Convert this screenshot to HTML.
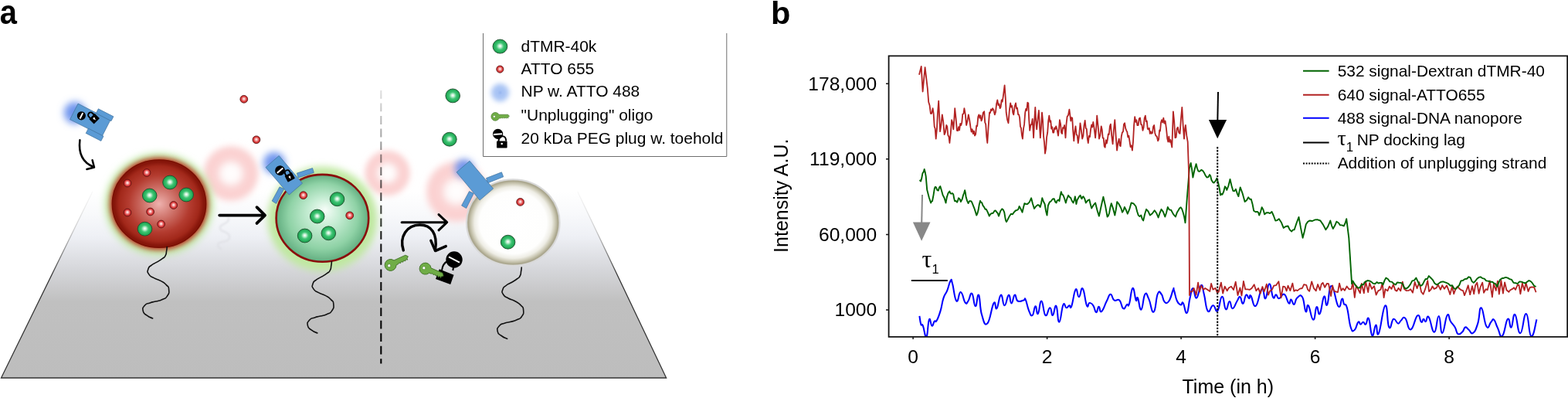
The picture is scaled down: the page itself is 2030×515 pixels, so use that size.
<!DOCTYPE html>
<html><head><meta charset="utf-8"><title>Figure</title>
<style>html,body{margin:0;padding:0;background:#fff;width:2030px;height:515px;overflow:hidden}svg{display:block}</style>
</head><body>
<svg width="2030" height="515" viewBox="0 0 2030 515">
<defs>
<linearGradient id="floor" x1="0" y1="248" x2="0" y2="489" gradientUnits="userSpaceOnUse">
 <stop offset="0" stop-color="#ffffff"/>
 <stop offset="0.12" stop-color="#f8f9fb"/>
 <stop offset="0.24" stop-color="#eef0f5"/>
 <stop offset="0.4" stop-color="#d8d9dd"/>
 <stop offset="0.59" stop-color="#c0c0c0"/>
 <stop offset="1" stop-color="#bdbdbd"/>
</linearGradient>
<linearGradient id="floorline" x1="0" y1="248" x2="0" y2="489" gradientUnits="userSpaceOnUse">
 <stop offset="0" stop-color="#eeeeee" stop-opacity="0.4"/>
 <stop offset="0.2" stop-color="#bbb" stop-opacity="0.7"/>
 <stop offset="0.45" stop-color="#333"/>
 <stop offset="1" stop-color="#333"/>
</linearGradient>
<linearGradient id="dashgrad" x1="0" y1="117" x2="0" y2="470" gradientUnits="userSpaceOnUse">
 <stop offset="0" stop-color="#000" stop-opacity="0.12"/>
 <stop offset="0.25" stop-color="#000" stop-opacity="0.45"/>
 <stop offset="0.5" stop-color="#000" stop-opacity="0.9"/>
 <stop offset="1" stop-color="#000"/>
</linearGradient>
<radialGradient id="gbead" cx="0.5" cy="0.5" r="0.5" fx="0.5" fy="0.47">
 <stop offset="0" stop-color="#ffffff"/>
 <stop offset="0.18" stop-color="#cdf2da"/>
 <stop offset="0.5" stop-color="#3fc574"/>
 <stop offset="1" stop-color="#17a04c"/>
</radialGradient>
<radialGradient id="rbead" cx="0.5" cy="0.5" r="0.5" fx="0.5" fy="0.45">
 <stop offset="0" stop-color="#ffffff"/>
 <stop offset="0.3" stop-color="#f3b0b0"/>
 <stop offset="0.7" stop-color="#dc3c3c"/>
 <stop offset="1" stop-color="#c02424"/>
</radialGradient>
<radialGradient id="redsph" cx="0.5" cy="0.5" r="0.5" fx="0.5" fy="0.5">
 <stop offset="0" stop-color="#eeb2ae"/>
 <stop offset="0.3" stop-color="#d27a72"/>
 <stop offset="0.65" stop-color="#b43c30"/>
 <stop offset="0.86" stop-color="#a2281a"/>
 <stop offset="0.96" stop-color="#85150a"/>
 <stop offset="1" stop-color="#8c1a0c"/>
</radialGradient>
<radialGradient id="grnsph" cx="0.5" cy="0.5" r="0.5" fx="0.53" fy="0.4">
 <stop offset="0" stop-color="#f6fdf8"/>
 <stop offset="0.35" stop-color="#c4ecd2"/>
 <stop offset="0.75" stop-color="#8fd2a6"/>
 <stop offset="1" stop-color="#62ae80"/>
</radialGradient>
<radialGradient id="whtsph" cx="0.5" cy="0.5" r="0.5">
 <stop offset="0" stop-color="#ffffff"/>
 <stop offset="0.72" stop-color="#fefefd"/>
 <stop offset="0.83" stop-color="#eeede5"/>
 <stop offset="0.91" stop-color="#c9c6b1"/>
 <stop offset="0.965" stop-color="#a9a58c"/>
 <stop offset="1" stop-color="#bab8a8"/>
</radialGradient>
<radialGradient id="ghost" cx="0.5" cy="0.5" r="0.5">
 <stop offset="0" stop-color="#ffffff"/>
 <stop offset="0.25" stop-color="#fefafa"/>
 <stop offset="0.5" stop-color="#fbd4d4"/>
 <stop offset="0.78" stop-color="#fad0d0"/>
 <stop offset="1" stop-color="#fde0e0" stop-opacity="0"/>
</radialGradient>
<filter id="blur1" x="-50%" y="-50%" width="200%" height="200%"><feGaussianBlur stdDeviation="0.8"/></filter>
<filter id="blur2" x="-50%" y="-50%" width="200%" height="200%"><feGaussianBlur stdDeviation="2"/></filter>
<filter id="blur3" x="-50%" y="-50%" width="200%" height="200%"><feGaussianBlur stdDeviation="3"/></filter>
<filter id="blur4" x="-50%" y="-50%" width="200%" height="200%"><feGaussianBlur stdDeviation="4"/></filter>
<filter id="blur5" x="-50%" y="-50%" width="200%" height="200%"><feGaussianBlur stdDeviation="5"/></filter>
<filter id="blur6" x="-80%" y="-80%" width="260%" height="260%"><feGaussianBlur stdDeviation="6"/></filter>
</defs>
<rect width="2030" height="515" fill="#fff"/>
<text transform="translate(-0.2,30.9) scale(0.96,1.07)" x="0" y="0" style="font-family:'Liberation Sans',Arial,Helvetica,sans-serif;font-weight:bold;font-size:41.5px">a</text>
<polygon points="119.8,248 747.8,248 862.6,489 1.5,489" fill="url(#floor)"/>
<path d="M119.8,248 L1.5,489 H862.6 L747.8,248" fill="none" stroke="url(#floorline)" stroke-width="1.3"/>
<path d="M0.0,0.0 C-0.2,1.7 0.1,1.3 -0.6,5.0 C-1.3,8.7 -0.2,7.7 -2.0,11.0 C-3.8,14.3 -2.1,12.1 -6.0,15.0 C-9.9,17.9 -8.9,17.0 -13.6,19.8 C-18.3,22.6 -16.4,20.6 -20.0,23.5 C-23.6,26.4 -23.1,24.6 -24.3,28.5 C-25.5,32.4 -25.9,31.5 -23.5,35.3 C-21.1,39.1 -22.1,37.2 -17.0,40.0 C-11.9,42.8 -13.6,40.8 -8.3,43.8 C-3.0,46.8 -4.6,45.3 -1.0,49.0 C2.6,52.7 2.0,50.2 2.4,55.0 C2.8,59.8 3.1,59.2 0.3,63.5 C-2.5,67.8 -1.0,65.5 -6.0,67.8 C-11.0,70.1 -9.4,69.0 -14.7,70.5 C-20.0,72.0 -17.4,70.6 -22.0,72.3 C-26.6,74.0 -25.6,72.0 -28.6,75.5 C-31.6,79.0 -31.9,78.5 -31.0,82.8 C-30.1,87.1 -30.2,85.3 -26.0,88.5 C-21.8,91.7 -21.0,91.1 -18.5,92.4" transform="translate(296,281) scale(0.45)" fill="none" stroke="#dcdde2" stroke-width="6" filter="url(#blur2)" opacity="0.6"/>
<circle cx="299" cy="224.5" r="40" fill="url(#ghost)" filter="url(#blur3)"/>
<circle cx="501.5" cy="224" r="33" fill="url(#ghost)" filter="url(#blur3)"/>
<circle cx="591" cy="248" r="44" fill="url(#ghost)" filter="url(#blur3)"/>
<line x1="493.3" y1="117" x2="493.3" y2="470.5" stroke="url(#dashgrad)" stroke-width="2.1" stroke-dasharray="10.8,5.74"/>
<circle cx="97" cy="146" r="14" fill="#6f95ee" filter="url(#blur5)"/>
<circle cx="355" cy="211" r="14" fill="#6f95ee" filter="url(#blur5)"/>
<circle cx="601" cy="218" r="12" fill="#6f95ee" filter="url(#blur5)"/>
<ellipse cx="206" cy="264.5" rx="70" ry="66" fill="#bfe8a4" filter="url(#blur5)"/>
<ellipse cx="206" cy="263.7" rx="64" ry="60" fill="#bb3a28" filter="url(#blur3)"/>
<ellipse cx="206" cy="263.7" rx="60.5" ry="56.5" fill="url(#redsph)" stroke="#7a1004" stroke-width="1.8"/>
<ellipse cx="417.4" cy="283.3" rx="71" ry="67.5" fill="#bfe8a0" filter="url(#blur5)"/>
<ellipse cx="417.4" cy="282.3" rx="59.8" ry="56.4" fill="url(#grnsph)" stroke="#8a0c0c" stroke-width="2.6"/>
<ellipse cx="664.3" cy="288" rx="60.3" ry="55.8" fill="url(#whtsph)" stroke="#d9d9d9" stroke-width="2"/>
<path d="M0.0,0.0 C-0.2,1.7 0.1,1.3 -0.6,5.0 C-1.3,8.7 -0.2,7.7 -2.0,11.0 C-3.8,14.3 -2.1,12.1 -6.0,15.0 C-9.9,17.9 -8.9,17.0 -13.6,19.8 C-18.3,22.6 -16.4,20.6 -20.0,23.5 C-23.6,26.4 -23.1,24.6 -24.3,28.5 C-25.5,32.4 -25.9,31.5 -23.5,35.3 C-21.1,39.1 -22.1,37.2 -17.0,40.0 C-11.9,42.8 -13.6,40.8 -8.3,43.8 C-3.0,46.8 -4.6,45.3 -1.0,49.0 C2.6,52.7 2.0,50.2 2.4,55.0 C2.8,59.8 3.1,59.2 0.3,63.5 C-2.5,67.8 -1.0,65.5 -6.0,67.8 C-11.0,70.1 -9.4,69.0 -14.7,70.5 C-20.0,72.0 -17.4,70.6 -22.0,72.3 C-26.6,74.0 -25.6,72.0 -28.6,75.5 C-31.6,79.0 -31.9,78.5 -31.0,82.8 C-30.1,87.1 -30.2,85.3 -26.0,88.5 C-21.8,91.7 -21.0,91.1 -18.5,92.4" transform="translate(216.2,319.6)" fill="none" stroke="#111" stroke-width="1.6" stroke-linecap="round"/>
<path d="M0.0,0.0 C-0.2,1.7 0.1,1.3 -0.6,5.0 C-1.3,8.7 -0.2,7.7 -2.0,11.0 C-3.8,14.3 -2.1,12.1 -6.0,15.0 C-9.9,17.9 -8.9,17.0 -13.6,19.8 C-18.3,22.6 -16.4,20.6 -20.0,23.5 C-23.6,26.4 -23.1,24.6 -24.3,28.5 C-25.5,32.4 -25.9,31.5 -23.5,35.3 C-21.1,39.1 -22.1,37.2 -17.0,40.0 C-11.9,42.8 -13.6,40.8 -8.3,43.8 C-3.0,46.8 -4.6,45.3 -1.0,49.0 C2.6,52.7 2.0,50.2 2.4,55.0 C2.8,59.8 3.1,59.2 0.3,63.5 C-2.5,67.8 -1.0,65.5 -6.0,67.8 C-11.0,70.1 -9.4,69.0 -14.7,70.5 C-20.0,72.0 -17.4,70.6 -22.0,72.3 C-26.6,74.0 -25.6,72.0 -28.6,75.5 C-31.6,79.0 -31.9,78.5 -31.0,82.8 C-30.1,87.1 -30.2,85.3 -26.0,88.5 C-21.8,91.7 -21.0,91.1 -18.5,92.4" transform="translate(429.4,338.6)" fill="none" stroke="#111" stroke-width="1.6" stroke-linecap="round"/>
<path d="M0.0,0.0 C-0.2,1.7 0.1,1.3 -0.6,5.0 C-1.3,8.7 -0.2,7.7 -2.0,11.0 C-3.8,14.3 -2.1,12.1 -6.0,15.0 C-9.9,17.9 -8.9,17.0 -13.6,19.8 C-18.3,22.6 -16.4,20.6 -20.0,23.5 C-23.6,26.4 -23.1,24.6 -24.3,28.5 C-25.5,32.4 -25.9,31.5 -23.5,35.3 C-21.1,39.1 -22.1,37.2 -17.0,40.0 C-11.9,42.8 -13.6,40.8 -8.3,43.8 C-3.0,46.8 -4.6,45.3 -1.0,49.0 C2.6,52.7 2.0,50.2 2.4,55.0 C2.8,59.8 3.1,59.2 0.3,63.5 C-2.5,67.8 -1.0,65.5 -6.0,67.8 C-11.0,70.1 -9.4,69.0 -14.7,70.5 C-20.0,72.0 -17.4,70.6 -22.0,72.3 C-26.6,74.0 -25.6,72.0 -28.6,75.5 C-31.6,79.0 -31.9,78.5 -31.0,82.8 C-30.1,87.1 -30.2,85.3 -26.0,88.5 C-21.8,91.7 -21.0,91.1 -18.5,92.4" transform="translate(675.2,346)" fill="none" stroke="#111" stroke-width="1.6" stroke-linecap="round"/>
<ellipse cx="220" cy="236" rx="9.3" ry="8.93" fill="url(#gbead)" stroke="#1f4d2c" stroke-width="0.9"/>
<ellipse cx="193.7" cy="253" rx="9.3" ry="8.93" fill="url(#gbead)" stroke="#1f4d2c" stroke-width="0.9"/>
<ellipse cx="241.2" cy="252" rx="9.3" ry="8.93" fill="url(#gbead)" stroke="#1f4d2c" stroke-width="0.9"/>
<ellipse cx="187.5" cy="296.2" rx="9.3" ry="8.93" fill="url(#gbead)" stroke="#1f4d2c" stroke-width="0.9"/>
<circle cx="190" cy="223.5" r="4.9" fill="url(#rbead)" stroke="#551010" stroke-width="0.8"/>
<circle cx="165" cy="237" r="4.9" fill="url(#rbead)" stroke="#551010" stroke-width="0.8"/>
<circle cx="224.7" cy="265.5" r="4.9" fill="url(#rbead)" stroke="#551010" stroke-width="0.8"/>
<circle cx="165" cy="275" r="4.9" fill="url(#rbead)" stroke="#551010" stroke-width="0.8"/>
<circle cx="194.6" cy="274" r="4.9" fill="url(#rbead)" stroke="#551010" stroke-width="0.8"/>
<circle cx="208.6" cy="290" r="4.9" fill="url(#rbead)" stroke="#551010" stroke-width="0.8"/>
<ellipse cx="436.5" cy="257.7" rx="9.3" ry="8.93" fill="url(#gbead)" stroke="#1f4d2c" stroke-width="0.9"/>
<ellipse cx="410.7" cy="280" rx="9.3" ry="8.93" fill="url(#gbead)" stroke="#1f4d2c" stroke-width="0.9"/>
<ellipse cx="394.6" cy="305" rx="9.3" ry="8.93" fill="url(#gbead)" stroke="#1f4d2c" stroke-width="0.9"/>
<ellipse cx="425.3" cy="301.8" rx="9.3" ry="8.93" fill="url(#gbead)" stroke="#1f4d2c" stroke-width="0.9"/>
<circle cx="392.7" cy="252.7" r="4.9" fill="url(#rbead)" stroke="#551010" stroke-width="0.8"/>
<circle cx="452.7" cy="278.8" r="4.9" fill="url(#rbead)" stroke="#551010" stroke-width="0.8"/>
<ellipse cx="657.6" cy="313.2" rx="9.3" ry="8.93" fill="url(#gbead)" stroke="#1f4d2c" stroke-width="0.9"/>
<circle cx="673.6" cy="261.4" r="4.9" fill="url(#rbead)" stroke="#551010" stroke-width="0.8"/>
<circle cx="315.8" cy="128.3" r="4.9" fill="url(#rbead)" stroke="#551010" stroke-width="0.8"/>
<circle cx="331.9" cy="180.8" r="4.9" fill="url(#rbead)" stroke="#551010" stroke-width="0.8"/>
<ellipse cx="586.2" cy="123.9" rx="9.3" ry="8.93" fill="url(#gbead)" stroke="#1f4d2c" stroke-width="0.9"/>
<ellipse cx="581.9" cy="180.2" rx="9.3" ry="8.93" fill="url(#gbead)" stroke="#1f4d2c" stroke-width="0.9"/>
<polygon points="101.0,134.1 142.9,155.4 132.4,175.9 90.6,154.6" fill="#5b9bd5" stroke="#41719c" stroke-width="0.7"/>
<polygon points="127.3,140.8 146.9,150.8 144.0,156.6 124.4,146.6" fill="#5b9bd5" stroke="#41719c" stroke-width="0.7"/>
<polygon points="114.4,166.2 134.0,176.2 130.8,182.4 111.2,172.4" fill="#5b9bd5" stroke="#41719c" stroke-width="0.7"/>
<g transform="translate(101.0,134.1) rotate(27)">
<circle cx="11" cy="12" r="5.6" fill="#000"/>
<line x1="11" y1="7.9" x2="11" y2="16.1" stroke="#fff" stroke-width="2"/>
<g transform="translate(27.2,7.6) rotate(-72)">
<path d="M-3.3,-3 V-6.2 A3.3,3.3 0 0 1 3.3,-6.2 V-3" fill="none" stroke="#000" stroke-width="1.9"/>
<rect x="-5.2" y="-4" width="10.4" height="9" rx="0.6" fill="#000"/>
<circle cx="0" cy="0" r="1.3" fill="#fff"/><rect x="-0.5" y="0" width="1" height="2.6" fill="#fff"/>
</g></g>
<polygon points="384.5,224.1 404.6,217.6 406.3,223.4 386.2,230.0" fill="#5b9bd5" stroke="#41719c" stroke-width="0.7"/>
<polygon points="362.0,241.9 367.7,244.5 357.6,263.4 352.2,260.0" fill="#5b9bd5" stroke="#41719c" stroke-width="0.7"/>
<polygon points="361.2,201.5 391.5,237.2 374.3,252.0 344.0,216.5" fill="#5b9bd5" stroke="#41719c" stroke-width="0.7"/>
<g transform="translate(361.2,201.5) rotate(49.7)">
<circle cx="15.5" cy="11.4" r="6.4" fill="#000"/>
<line x1="15.5" y1="6.5" x2="15.5" y2="16.3" stroke="#fff" stroke-width="2"/>
<g transform="translate(29.8,7.2) rotate(-78)">
<path d="M-3.3,-3 V-6.2 A3.3,3.3 0 0 1 3.3,-6.2 V-3" fill="none" stroke="#000" stroke-width="1.9"/>
<rect x="-5.2" y="-4" width="10.4" height="9" rx="0.6" fill="#000"/>
<circle cx="0" cy="0" r="1.3" fill="#fff"/><rect x="-0.5" y="0" width="1" height="2.6" fill="#fff"/>
</g></g>
<polygon points="629.5,230.5 649.4,222.8 651.7,228.8 631.6,236.8" fill="#5b9bd5" stroke="#41719c" stroke-width="0.7"/>
<polygon points="607.5,247.6 613.3,250.3 603.7,269.5 597.6,266.0" fill="#5b9bd5" stroke="#41719c" stroke-width="0.7"/>
<polygon points="608.0,208.3 638.6,244.1 621.1,259.0 591.1,222.8" fill="#5b9bd5" stroke="#41719c" stroke-width="0.7"/>
<path d="M103.4,181.2 C101.5,197 106,210 121,216" fill="none" stroke="#000" stroke-linecap="round" stroke-linejoin="round" stroke-width="2.5"/>
<path d="M119.6,207.2 L122,216.5 L112.4,219" fill="none" stroke="#000" stroke-linecap="round" stroke-linejoin="round" stroke-width="2.5"/>
<path d="M284.2,278.6 H342.5 M332.5,268.2 L343,278.6 L332.5,288.9" fill="none" stroke="#000" stroke-linecap="round" stroke-linejoin="round" stroke-width="3.8"/>
<path d="M520.1,287.7 H578.5 M568,277.6 L578.7,287.7 L568,297.8" fill="none" stroke="#000" stroke-linecap="round" stroke-linejoin="round" stroke-width="3"/>
<path d="M522.3,324 C516.5,306 527,291 543.5,291 C558,291 567,302 563.5,324" fill="none" stroke="#000" stroke-linecap="round" stroke-linejoin="round" stroke-width="3.4"/>
<path d="M557.8,311.2 L563.6,324.6 L577.3,318.6" fill="none" stroke="#000" stroke-linecap="round" stroke-linejoin="round" stroke-width="3.4"/>
<g transform="translate(506.4,342.2) rotate(-24.5) scale(1.0)"><path d="M5.5,-3.3 L21.8,-3.3 L24.3,-0.3 L22,1.4 L22,3.4 L20.2,1.9 L18.6,3.6 L16.8,2 L15.2,3.6 L13.4,2 L11.8,3.6 L10,2.2 L8.6,3.4 L5.8,3.4 A7.5,7.5 0 1 1 5.5,-3.3 Z" fill="#70ad47" stroke="#3f6e25" stroke-width="0.8"/><circle cx="-3" cy="0.3" r="2" fill="#fff" stroke="#3f6e25" stroke-width="0.5"/></g>
<path d="M572,350 C572.5,344 575,340 580,337.5 M586.3,350 L587.3,344.5" fill="none" stroke="#000" stroke-width="2"/>
<circle cx="588" cy="336" r="10.7" fill="#000"/>
<line x1="581" y1="332.4" x2="595" y2="339.6" stroke="#fff" stroke-width="2"/>
<polygon points="568.8,348.3 587.5,355.8 583.2,368.0 564.0,361.1" fill="#000"/>
<g transform="translate(551.7,347.7) rotate(23.5) scale(1.0)"><path d="M5.5,-3.3 L21.8,-3.3 L24.3,-0.3 L22,1.4 L22,3.4 L20.2,1.9 L18.6,3.6 L16.8,2 L15.2,3.6 L13.4,2 L11.8,3.6 L10,2.2 L8.6,3.4 L5.8,3.4 A7.5,7.5 0 1 1 5.5,-3.3 Z" fill="#70ad47" stroke="#3f6e25" stroke-width="0.8"/><circle cx="-3" cy="0.3" r="2" fill="#fff" stroke="#3f6e25" stroke-width="0.5"/></g>
<path d="M625.5,43 V202.5 H940.8 V43" fill="none" stroke="#6e6e6e" stroke-width="1"/>
<ellipse cx="647.4" cy="60.1" rx="9.4" ry="9.02" fill="url(#gbead)" stroke="#1f4d2c" stroke-width="0.9"/>
<circle cx="647.3" cy="89.6" r="4.6" fill="url(#rbead)" stroke="#551010" stroke-width="0.8"/>
<circle cx="647.5" cy="119.8" r="11.5" fill="#a7c3f4" filter="url(#blur3)"/>
<circle cx="647.5" cy="119.8" r="1.6" fill="#8eaeee" filter="url(#blur1)"/>
<g transform="translate(642,150.6) rotate(0) scale(0.72)"><path d="M5.5,-3.3 L21.8,-3.3 L24.3,-0.3 L22,1.4 L22,3.4 L20.2,1.9 L18.6,3.6 L16.8,2 L15.2,3.6 L13.4,2 L11.8,3.6 L10,2.2 L8.6,3.4 L5.8,3.4 A7.5,7.5 0 1 1 5.5,-3.3 Z" fill="#70ad47" stroke="#3f6e25" stroke-width="0.8"/><circle cx="-3" cy="0.3" r="2" fill="#fff" stroke="#3f6e25" stroke-width="0.5"/></g>
<path d="M645.5,183 C646,174 655,174 655.3,182.5" fill="none" stroke="#000" stroke-width="2"/>
<circle cx="644.6" cy="173.3" r="6.6" fill="#000"/>
<line x1="639" y1="173.9" x2="650" y2="173.2" stroke="#fff" stroke-width="2"/>
<rect x="643" y="182.6" width="13.6" height="8.9" rx="0.8" fill="#000"/>
<circle cx="649.7" cy="186" r="1.3" fill="#fff"/>
<text x="674.6" y="66.6" style="font-family:'Liberation Sans',Arial,Helvetica,sans-serif;font-size:20.95px">dTMR-40k</text>
<text x="674.6" y="96.0" style="font-family:'Liberation Sans',Arial,Helvetica,sans-serif;font-size:20.95px">ATTO 655</text>
<text x="674.6" y="125.4" style="font-family:'Liberation Sans',Arial,Helvetica,sans-serif;font-size:20.95px">NP w. ATTO 488</text>
<text x="674.6" y="155.8" style="font-family:'Liberation Sans',Arial,Helvetica,sans-serif;font-size:20.95px">"Unplugging" oligo</text>
<text x="674.6" y="185.5" style="font-family:'Liberation Sans',Arial,Helvetica,sans-serif;font-size:20.95px">20 kDa PEG plug w. toehold</text>
<text x="998" y="30.5" style="font-family:'Liberation Sans',Arial,Helvetica,sans-serif;font-weight:bold;font-size:41.5px">b</text>
<path d="M1150.6,72.3 H2029.2 V435.8 H1150.6 Z" fill="none" stroke="#111" stroke-width="1.8"/>
<line x1="1147" y1="108.3" x2="1150.6" y2="108.3" stroke="#111" stroke-width="1.5"/>
<text x="1135.2" y="116.6" text-anchor="end" style="font-family:'Liberation Sans',Arial,Helvetica,sans-serif;font-size:24.6px">178,000</text>
<line x1="1147" y1="205.8" x2="1150.6" y2="205.8" stroke="#111" stroke-width="1.5"/>
<text x="1135.2" y="214.1" text-anchor="end" style="font-family:'Liberation Sans',Arial,Helvetica,sans-serif;font-size:24.6px">119,000</text>
<line x1="1147" y1="303.5" x2="1150.6" y2="303.5" stroke="#111" stroke-width="1.5"/>
<text x="1135.2" y="311.8" text-anchor="end" style="font-family:'Liberation Sans',Arial,Helvetica,sans-serif;font-size:24.6px">60,000</text>
<line x1="1147" y1="401.0" x2="1150.6" y2="401.0" stroke="#111" stroke-width="1.5"/>
<text x="1135.2" y="409.3" text-anchor="end" style="font-family:'Liberation Sans',Arial,Helvetica,sans-serif;font-size:24.6px">1000</text>
<line x1="1182.1" y1="435.8" x2="1182.1" y2="439" stroke="#111" stroke-width="1.5"/>
<text x="1182.1" y="469.6" text-anchor="middle" style="font-family:'Liberation Sans',Arial,Helvetica,sans-serif;font-size:24.6px">0</text>
<line x1="1355.6" y1="435.8" x2="1355.6" y2="439" stroke="#111" stroke-width="1.5"/>
<text x="1355.6" y="469.6" text-anchor="middle" style="font-family:'Liberation Sans',Arial,Helvetica,sans-serif;font-size:24.6px">2</text>
<line x1="1529.1" y1="435.8" x2="1529.1" y2="439" stroke="#111" stroke-width="1.5"/>
<text x="1529.1" y="469.6" text-anchor="middle" style="font-family:'Liberation Sans',Arial,Helvetica,sans-serif;font-size:24.6px">4</text>
<line x1="1702.6" y1="435.8" x2="1702.6" y2="439" stroke="#111" stroke-width="1.5"/>
<text x="1702.6" y="469.6" text-anchor="middle" style="font-family:'Liberation Sans',Arial,Helvetica,sans-serif;font-size:24.6px">6</text>
<line x1="1876.1" y1="435.8" x2="1876.1" y2="439" stroke="#111" stroke-width="1.5"/>
<text x="1876.1" y="469.6" text-anchor="middle" style="font-family:'Liberation Sans',Arial,Helvetica,sans-serif;font-size:24.6px">8</text>
<text x="1530.5" y="509.2" style="font-family:'Liberation Sans',Arial,Helvetica,sans-serif;font-size:25px">Time (in h)</text>
<text transform="translate(1019.6,326.9) rotate(-90)" x="0" y="0" style="font-family:'Liberation Sans',Arial,Helvetica,sans-serif;font-size:25px">Intensity A.U.</text>
<clipPath id="plotclip"><rect x="1151.5" y="73.2" width="876.8" height="361.8"/></clipPath><g clip-path="url(#plotclip)">
<path d="M1190.4,408.9 C1190.9,411.6 1191.2,416.4 1192.3,419.6 C1193.4,422.8 1193.4,417.7 1194.9,421.6 C1196.4,425.5 1196.9,432.0 1198.2,435.1 C1199.5,438.2 1198.9,439.6 1200.1,434.2 C1201.3,428.8 1201.4,416.5 1203.0,413.4 C1204.6,410.2 1204.8,421.0 1206.5,421.6 C1208.2,422.2 1208.2,417.4 1209.8,415.7 C1211.3,414.0 1210.8,418.2 1212.7,414.8 C1214.7,411.4 1215.4,409.4 1217.6,402.1 C1219.8,394.8 1219.3,392.2 1221.5,385.6 C1223.7,379.1 1224.0,381.5 1226.3,375.9 C1228.6,370.3 1228.9,365.5 1230.6,363.3 C1232.3,361.1 1231.2,360.6 1233.1,367.2 C1235.0,373.8 1235.6,386.8 1238.3,389.5 C1241.0,392.2 1241.0,377.4 1243.8,377.9 C1246.6,378.4 1247.2,388.6 1249.6,391.5 C1252.0,394.4 1251.3,392.4 1253.5,389.5 C1255.7,386.6 1256.0,378.1 1258.3,379.8 C1260.6,381.5 1260.6,395.8 1262.8,396.3 C1265.0,396.8 1265.0,379.0 1267.1,381.7 C1269.1,384.4 1268.2,397.8 1271.0,407.0 C1273.8,416.2 1274.4,422.2 1278.3,418.6 C1282.2,415.0 1283.5,397.2 1286.5,392.4 C1289.5,387.5 1288.1,401.9 1290.4,399.2 C1292.7,396.5 1293.3,382.7 1295.8,381.7 C1298.3,380.7 1298.0,395.3 1300.5,395.3 C1303.0,395.3 1303.7,382.4 1305.9,381.7 C1308.1,381.0 1307.5,392.4 1309.4,392.4 C1311.4,392.4 1311.7,382.4 1313.7,381.7 C1315.8,381.0 1314.7,387.8 1317.6,389.5 C1320.5,391.2 1322.8,389.0 1325.3,388.5 C1327.8,388.0 1326.0,384.2 1327.7,387.6 C1329.4,391.0 1329.9,397.0 1332.1,402.1 C1334.3,407.2 1334.5,409.4 1336.6,408.0 C1338.7,406.6 1338.7,396.8 1340.5,396.3 C1342.3,395.8 1341.8,407.7 1343.8,406.0 C1345.8,404.3 1345.9,389.0 1348.3,389.5 C1350.7,390.0 1350.8,405.8 1353.5,408.0 C1356.2,410.2 1356.9,398.3 1359.3,398.3 C1361.7,398.3 1360.9,408.6 1362.9,408.0 C1364.9,407.4 1365.3,393.7 1367.4,395.9 C1369.5,398.1 1369.0,417.1 1371.3,416.7 C1373.6,416.3 1374.2,399.0 1376.5,394.4 C1378.8,389.8 1378.5,398.1 1380.4,398.3 C1382.4,398.5 1382.6,395.8 1384.3,395.3 C1386.0,394.8 1385.1,401.5 1387.2,396.3 C1389.3,391.1 1390.2,377.6 1392.6,374.6 C1395.0,371.6 1394.6,384.6 1396.9,384.3 C1399.2,384.0 1399.2,370.6 1401.7,373.4 C1404.2,376.1 1404.8,390.6 1407.0,395.3 C1409.2,400.0 1408.4,392.0 1410.5,392.0 C1412.6,392.0 1413.1,392.3 1415.3,395.3 C1417.5,398.3 1417.4,403.8 1419.2,404.1 C1421.0,404.5 1420.8,396.9 1422.5,396.7 C1424.2,396.4 1423.4,404.9 1426.0,403.1 C1428.6,401.3 1429.9,395.1 1432.8,389.5 C1435.7,383.9 1435.3,381.1 1437.7,380.8 C1440.1,380.6 1439.6,386.6 1442.5,388.5 C1445.4,390.4 1446.4,385.8 1449.3,388.5 C1452.2,391.2 1451.8,397.8 1454.2,399.2 C1456.6,400.6 1457.1,395.4 1459.0,394.0 C1460.9,392.6 1460.1,398.6 1461.9,393.4 C1463.8,388.1 1464.2,374.2 1466.4,373.0 C1468.6,371.8 1469.1,385.4 1470.7,388.5 C1472.3,391.6 1471.3,382.6 1473.0,385.6 C1474.7,388.6 1475.2,401.8 1477.5,400.6 C1479.8,399.4 1479.9,384.3 1482.3,380.8 C1484.7,377.3 1484.4,380.9 1487.2,386.6 C1490.0,392.3 1490.7,405.2 1493.6,403.7 C1496.5,402.1 1496.3,386.1 1498.8,380.4 C1501.3,374.7 1501.5,378.3 1503.7,380.8 C1505.9,383.3 1505.2,388.3 1507.6,390.5 C1510.0,392.7 1510.6,393.4 1513.4,389.5 C1516.2,385.6 1517.2,378.4 1518.8,375.0 C1520.4,371.6 1518.7,372.3 1520.0,375.9 C1521.3,379.5 1521.7,384.9 1523.9,389.5 C1526.1,394.1 1526.8,393.8 1528.7,394.4 C1530.7,395.0 1529.8,389.4 1531.7,392.0 C1533.7,394.6 1534.3,406.4 1536.5,405.0 C1538.7,403.6 1538.5,394.6 1540.4,386.6 C1542.4,378.6 1542.1,373.2 1544.3,373.0 C1546.5,372.8 1546.4,386.6 1549.1,385.6 C1551.8,384.6 1552.6,370.3 1555.0,369.1 C1557.4,367.9 1556.6,372.5 1558.8,380.8 C1561.0,389.1 1560.8,398.9 1563.7,402.5 C1566.6,406.1 1567.3,395.4 1570.5,395.3 C1573.7,395.2 1573.4,405.0 1576.3,402.1 C1579.2,399.2 1579.4,384.2 1582.1,383.7 C1584.8,383.2 1584.6,398.6 1587.0,400.2 C1589.4,401.8 1589.6,390.4 1591.8,390.1 C1594.0,389.9 1593.2,399.4 1595.7,399.2 C1598.2,399.0 1599.2,393.2 1601.6,389.5 C1604.0,385.8 1603.5,383.5 1605.4,384.3 C1607.3,385.1 1607.3,393.5 1609.3,392.8 C1611.2,392.1 1611.2,383.4 1613.2,381.7 C1615.2,380.0 1615.5,385.9 1617.1,386.2 C1618.6,386.4 1617.2,380.3 1619.4,382.7 C1621.6,385.1 1622.2,398.1 1625.8,395.9 C1629.3,393.7 1630.4,376.4 1633.6,374.0 C1636.8,371.6 1636.0,387.9 1638.4,386.2 C1640.8,384.5 1640.8,367.6 1643.3,367.2 C1645.8,366.8 1646.0,381.2 1648.2,384.7 C1650.4,388.2 1650.1,380.8 1652.0,381.2 C1653.9,381.6 1653.2,386.3 1655.9,386.2 C1658.6,386.1 1659.6,379.2 1662.7,380.8 C1665.8,382.4 1666.3,390.7 1668.5,392.4 C1670.7,394.1 1669.8,387.2 1671.5,387.6 C1673.2,388.0 1673.4,394.5 1675.3,394.0 C1677.2,393.5 1676.5,388.0 1679.2,385.6 C1681.9,383.2 1683.2,379.9 1686.0,384.3 C1688.8,388.7 1688.5,400.4 1690.5,403.1 C1692.5,405.9 1691.4,392.6 1693.8,395.3 C1696.2,398.0 1697.5,413.3 1700.2,413.8 C1702.9,414.3 1702.4,399.2 1704.5,397.3 C1706.6,395.4 1706.3,409.4 1708.7,406.0 C1711.1,402.6 1711.9,386.6 1714.2,383.7 C1716.5,380.8 1715.7,397.8 1718.1,394.4 C1720.5,391.0 1720.3,369.6 1723.9,370.1 C1727.5,370.6 1729.2,392.2 1732.6,396.3 C1736.0,400.4 1735.7,387.3 1737.5,386.6 C1739.3,385.9 1738.4,390.5 1740.0,393.4 C1741.6,396.3 1741.7,390.8 1743.9,398.3 C1746.1,405.8 1746.3,416.3 1748.7,423.5 C1751.1,430.7 1751.2,428.7 1753.6,427.0 C1756.0,425.3 1756.5,418.5 1758.4,416.7 C1760.4,414.9 1759.8,419.6 1761.4,419.6 C1763.0,419.6 1763.2,416.7 1764.9,416.7 C1766.6,416.7 1766.4,420.7 1768.2,419.6 C1770.0,418.5 1769.9,408.6 1772.0,412.2 C1774.1,415.8 1774.2,432.1 1776.5,434.2 C1778.8,436.3 1779.1,421.3 1781.2,420.6 C1783.3,419.9 1782.0,437.6 1785.0,431.3 C1788.0,425.0 1790.1,397.2 1793.4,395.3 C1796.7,393.4 1795.6,419.1 1798.3,423.5 C1801.0,427.9 1801.2,414.0 1804.1,412.8 C1807.0,411.6 1807.5,418.1 1809.9,418.6 C1812.3,419.1 1811.5,416.5 1813.8,414.8 C1816.1,413.1 1816.0,408.9 1819.2,411.8 C1822.4,414.7 1822.4,427.3 1826.4,426.4 C1830.4,425.5 1831.7,410.7 1835.1,408.3 C1838.5,405.9 1838.0,415.6 1840.0,416.7 C1842.0,417.8 1841.5,412.9 1842.9,412.8 C1844.4,412.7 1844.1,416.7 1845.8,416.1 C1847.5,415.5 1846.9,406.9 1849.7,410.3 C1852.5,413.7 1853.7,430.1 1856.9,429.7 C1860.2,429.3 1860.1,408.6 1862.7,408.9 C1865.3,409.2 1864.5,431.1 1867.2,430.9 C1869.9,430.7 1870.9,411.8 1873.6,408.0 C1876.3,404.2 1875.4,411.8 1877.9,415.7 C1880.4,419.6 1881.3,419.4 1883.7,423.5 C1886.1,427.6 1885.2,430.8 1887.6,432.2 C1890.0,433.6 1891.1,431.5 1893.4,429.3 C1895.7,427.1 1895.0,424.2 1896.9,423.5 C1898.9,422.8 1898.7,424.5 1901.2,426.4 C1903.7,428.2 1904.0,432.8 1907.0,430.9 C1910.0,428.9 1910.5,426.8 1913.2,418.6 C1915.9,410.5 1914.9,397.3 1917.7,398.3 C1920.5,399.3 1921.3,417.9 1924.5,422.5 C1927.7,427.1 1927.9,418.9 1930.3,416.7 C1932.7,414.5 1932.0,411.9 1934.2,413.8 C1936.4,415.8 1936.3,419.2 1939.0,424.5 C1941.7,429.8 1941.7,437.7 1944.9,434.8 C1948.2,431.9 1949.1,415.6 1952.0,412.8 C1954.9,410.0 1954.2,424.9 1956.5,423.5 C1958.8,422.1 1958.5,405.1 1961.4,407.0 C1964.3,408.9 1964.6,431.6 1968.2,431.3 C1971.8,431.1 1972.4,405.1 1975.9,406.0 C1979.4,406.9 1978.9,433.2 1982.3,435.1 C1985.7,437.0 1987.7,418.8 1989.5,413.4" fill="none" stroke="#0000ff" stroke-width="2.05" stroke-linejoin="round"/>
<polyline points="1540.5,377.1 1543.2,377.6 1545.7,373.0 1548.6,381.7 1551.1,365.6 1552.9,377.7 1555.2,369.6 1558.1,374.7 1560.3,372.9 1563.5,375.1 1566.3,377.1 1568.1,367.0 1570.4,374.7 1573.5,372.8 1575.9,378.6 1577.8,377.6 1580.9,365.6 1583.2,379.5 1585.7,370.6 1588.7,376.2 1590.8,372.5 1594.0,370.8 1597.0,375.1 1599.7,364.7 1602.5,382.0 1605.4,372.4 1607.5,382.5 1609.9,363.9 1612.2,374.3 1615.4,374.3 1617.7,374.9 1620.5,372.9 1623.7,368.3 1626.3,376.3 1629.1,372.9 1631.7,379.9 1634.4,371.0 1636.7,377.2 1639.8,367.7 1642.0,381.6 1644.0,376.6 1646.8,375.0 1649.2,369.7 1652.2,369.1 1655.4,364.2 1658.5,385.3 1661.1,370.7 1663.5,371.2 1665.6,376.5 1667.5,369.7 1670.4,376.1 1673.4,366.6 1675.3,376.8 1677.7,375.2 1679.7,376.1 1682.8,373.6 1685.9,373.0 1688.1,368.2 1691.2,368.8 1693.1,374.6 1695.2,376.9 1698.2,364.3 1700.8,372.8 1703.8,376.3 1706.1,368.0 1708.9,375.4 1710.8,367.6 1712.6,365.9 1715.2,371.8 1717.8,367.0 1720.0,367.1 1723.1,383.2 1725.1,369.5 1726.9,376.5 1729.3,377.3 1732.0,378.1 1734.0,366.6 1736.5,375.9 1738.6,373.2 1740.9,375.8 1743.7,370.5 1746.5,374.3 1749.6,373.9 1751.4,364.8 1753.8,385.0 1755.9,369.7 1758.7,375.0 1760.9,379.3 1762.8,366.8 1765.8,379.3 1768.0,364.1 1771.2,378.1 1773.1,366.1 1775.9,373.8 1779.1,370.2 1781.6,381.5 1784.2,376.4 1787.4,374.7 1789.7,366.3 1791.6,385.2 1793.5,374.1 1796.4,376.4 1798.8,370.7 1801.5,373.9 1803.9,368.2 1806.3,375.4 1808.4,376.6 1810.6,372.7 1813.3,376.4 1815.8,364.6 1817.9,373.8 1820.6,376.2 1823.7,375.9 1826.2,374.3 1829.0,378.7 1831.7,365.0 1834.6,373.1 1837.4,365.2 1840.1,377.8 1842.5,380.8 1845.1,374.2 1848.3,363.1 1850.1,377.1 1852.5,374.6 1854.5,370.5 1856.7,373.9 1859.8,372.4 1861.8,368.3 1864.9,374.8 1867.2,369.1 1869.9,373.7 1873.0,369.4 1875.2,374.8 1877.3,381.0 1880.0,370.6 1882.2,380.3 1884.5,373.9 1886.9,370.7 1889.6,373.8 1891.9,375.4 1894.1,376.1 1896.0,382.2 1898.9,374.6 1900.7,369.3 1903.2,381.2 1906.0,370.1 1908.2,380.4 1910.1,369.2 1912.3,365.7 1914.6,379.8 1916.6,371.5 1919.2,365.6 1921.0,378.9 1923.6,374.1 1925.7,375.3 1928.8,363.4 1931.9,384.3 1933.8,367.4 1936.8,375.9 1938.9,363.6 1940.8,380.6 1943.4,363.0 1945.9,379.7 1948.1,365.3 1950.4,375.3 1953.4,377.8 1955.3,375.3 1958.1,373.9 1960.1,372.2 1962.0,374.9 1964.5,369.0 1966.5,369.0 1968.4,380.3 1970.8,366.5 1973.6,375.7 1975.5,365.8 1978.5,377.1 1980.7,371.9 1983.3,371.5 1986.1,371.6 1988.6,378.3" fill="none" stroke="#b22222" stroke-width="1.8" stroke-linejoin="round"/>
<polyline points="1190.5,233.0 1192.1,234.5 1193.2,230.9 1194.4,224.3 1195.6,222.6 1196.7,219.0 1197.7,222.8 1198.7,228.1 1200.2,245.6 1202.7,255.2 1205.1,262.5 1206.0,260.7 1207.0,260.2 1208.5,252.6 1209.9,243.7 1210.9,241.8 1211.9,242.3 1213.3,246.0 1214.8,246.6 1216.0,242.7 1217.3,241.1 1218.9,246.2 1220.6,252.4 1222.5,256.0 1224.5,262.5 1225.8,255.3 1227.5,250.0 1229.3,247.5 1230.5,250.1 1231.7,250.8 1233.0,250.0 1234.2,251.4 1235.2,256.8 1236.1,260.2 1237.5,259.9 1239.0,261.7 1240.0,259.9 1241.0,256.3 1242.5,257.4 1243.9,261.1 1245.6,257.9 1247.2,252.0 1248.2,249.6 1249.1,246.2 1249.9,249.8 1250.7,255.3 1252.2,260.1 1253.6,263.1 1255.0,260.2 1256.5,260.2 1257.5,260.4 1258.4,262.1 1261.3,269.3 1264.3,278.6 1265.4,276.2 1266.6,271.8 1267.8,264.4 1269.1,259.8 1270.1,261.8 1271.1,262.1 1272.5,265.9 1274.0,267.9 1275.5,270.7 1276.9,270.8 1278.8,274.6 1280.8,279.6 1282.2,277.3 1283.7,276.1 1285.7,275.8 1287.6,272.8 1289.0,272.5 1290.5,274.7 1291.8,276.2 1293.0,279.6 1295.2,273.3 1297.3,270.2 1298.8,271.5 1300.2,274.7 1301.2,280.7 1302.1,285.4 1303.0,287.0 1304.0,285.4 1306.5,280.3 1308.9,276.7 1310.8,277.3 1312.8,274.7 1314.8,272.5 1316.7,271.8 1318.2,271.0 1319.6,267.0 1321.5,270.3 1323.5,274.7 1325.0,268.2 1326.4,263.1 1328.3,264.1 1330.2,264.0 1332.7,261.6 1335.1,256.3 1337.0,263.7 1339.0,269.9 1341.4,266.7 1343.8,265.0 1345.2,265.9 1346.7,267.9 1348.0,263.0 1349.3,256.3 1350.9,260.8 1352.6,264.0 1354.0,272.7 1355.5,278.6 1356.9,266.0 1358.8,261.6 1360.8,260.2 1362.8,257.5 1364.7,257.2 1366.2,261.3 1367.6,262.5 1368.6,259.6 1369.6,259.2 1370.5,258.4 1371.5,260.2 1372.7,252.9 1373.8,248.1 1375.0,251.7 1376.3,252.4 1378.0,256.5 1379.8,262.5 1381.4,257.0 1383.1,252.8 1384.6,255.1 1386.1,255.9 1387.8,260.0 1389.5,262.5 1390.7,259.2 1391.9,254.3 1393.4,264.0 1394.6,258.8 1395.8,256.7 1397.2,254.1 1398.7,252.8 1399.7,256.1 1400.6,257.2 1401.5,254.9 1402.5,254.3 1404.2,257.1 1405.8,262.5 1408.0,259.6 1410.3,258.2 1411.8,264.6 1413.2,269.5 1415.7,265.3 1418.1,262.5 1420.5,272.1 1422.9,279.6 1425.7,266.5 1428.4,254.7 1431.0,266.1 1433.6,280.5 1434.8,279.3 1436.1,275.7 1437.4,268.3 1438.8,263.1 1441.0,269.8 1443.3,278.6 1444.8,271.1 1446.2,261.1 1448.2,263.5 1450.1,267.0 1451.5,269.8 1453.0,274.7 1454.5,272.2 1455.9,267.9 1457.8,271.7 1459.8,276.7 1462.2,270.9 1464.6,262.5 1467.5,263.4 1470.5,267.0 1472.2,273.7 1473.8,278.6 1475.5,280.1 1477.3,278.6 1478.8,283.5 1480.2,285.4 1482.2,276.7 1484.1,270.8 1486.5,273.5 1488.9,278.6 1491.8,276.3 1494.7,272.2 1497.2,275.7 1499.6,281.5 1501.5,275.6 1503.5,270.8 1505.9,274.1 1508.3,280.5 1510.0,275.5 1511.8,267.9 1513.9,271.4 1516.1,271.8 1519.0,277.1 1521.9,280.5 1523.8,275.1 1525.8,271.8 1527.2,269.2 1528.7,268.3 1530.2,270.5 1531.6,274.7 1533.0,279.9 1534.5,288.3 1536.0,267.4 1537.4,248.5 1538.6,234.0 1539.8,218.0 1540.8,213.6 1541.7,211.0 1543.1,219.1 1544.4,229.6 1546.5,219.8 1548.6,212.1 1550.0,218.0 1551.4,221.5 1553.3,221.7 1555.2,219.8 1557.2,220.9 1559.1,223.8 1560.8,227.4 1562.6,229.6 1564.3,229.2 1566.1,226.1 1567.3,228.1 1568.5,233.1 1570.0,235.6 1571.5,236.6 1573.5,234.4 1575.4,230.8 1577.2,236.8 1578.9,244.8 1580.1,252.5 1581.2,250.9 1582.4,251.8 1584.2,248.0 1585.9,241.3 1587.1,242.6 1588.3,245.9 1590.4,240.5 1592.5,232.0 1594.5,240.5 1596.4,247.1 1598.2,247.2 1599.9,244.8 1601.7,250.3 1603.4,254.1 1604.6,247.4 1605.7,242.4 1608.7,250.5 1611.6,261.1 1613.9,259.3 1616.2,255.3 1618.0,257.7 1619.7,257.6 1621.5,263.9 1623.2,272.7 1625.6,274.3 1627.9,273.9 1629.1,274.9 1630.2,278.6 1632.0,274.1 1633.7,268.1 1635.5,271.4 1637.2,277.4 1639.6,275.3 1641.9,275.1 1644.2,276.1 1646.5,273.9 1648.8,279.0 1651.2,285.5 1653.5,285.1 1655.8,283.2 1658.8,287.7 1661.7,294.9 1664.6,293.0 1667.5,292.5 1669.8,297.4 1672.2,299.5 1674.0,297.4 1675.7,297.2 1678.6,288.5 1681.5,280.9 1684.0,294.9 1686.6,307.7 1688.7,299.7 1690.8,290.2 1693.2,286.9 1695.5,285.5 1699.0,286.0 1702.5,284.4 1706.0,284.3 1709.4,285.5 1712.9,290.6 1716.4,297.2 1719.3,292.9 1722.3,285.5 1724.0,291.8 1725.8,296.0 1728.1,292.1 1730.4,286.7 1732.8,288.2 1735.1,291.4 1737.4,291.4 1739.7,292.5 1741.5,289.0 1743.2,283.2 1746.3,307.9 1750.1,367.2 1750.8,364.2 1751.4,363.4 1753.5,367.1 1755.6,370.1 1757.7,372.2 1760.2,372.5 1762.7,368.3 1765.2,368.4 1766.5,365.3 1767.8,364.6 1770.3,363.0 1772.8,363.4 1775.3,364.6 1777.8,366.9 1780.4,367.2 1782.5,365.1 1784.6,366.5 1786.7,365.9 1788.6,365.9 1790.5,368.4 1792.4,363.1 1794.3,359.6 1796.8,361.0 1799.3,364.4 1801.8,364.6 1804.3,367.0 1806.9,368.4 1809.0,365.4 1811.1,365.7 1813.2,365.9 1815.7,366.9 1818.3,372.6 1820.8,373.5 1823.3,371.5 1825.8,368.1 1828.3,363.4 1830.8,362.9 1833.4,359.6 1835.5,364.0 1837.6,368.3 1839.7,369.7 1841.6,368.4 1843.5,364.6 1845.6,361.0 1847.7,361.1 1849.8,357.1 1852.3,359.5 1854.8,362.1 1857.3,366.4 1859.9,368.4 1862.0,367.4 1864.1,365.6 1866.2,364.6 1868.3,364.4 1870.4,365.2 1872.5,365.9 1875.0,367.0 1877.6,369.7 1880.1,369.3 1882.6,373.6 1885.1,373.5 1887.2,371.4 1889.3,368.9 1891.4,363.4 1893.9,363.0 1896.5,361.1 1899.0,360.7 1901.5,358.3 1903.6,359.2 1905.7,364.1 1907.8,365.9 1910.0,363.8 1912.2,360.7 1914.5,358.9 1916.7,358.3 1919.2,360.1 1921.7,360.6 1924.2,363.4 1926.7,363.6 1929.3,364.7 1931.8,364.6 1933.9,366.3 1936.0,367.2 1938.1,371.0 1940.0,366.5 1941.9,362.1 1944.4,360.3 1947.0,359.7 1949.5,358.9 1952.0,359.6 1954.5,361.1 1957.1,361.9 1959.6,365.9 1962.1,366.2 1964.7,367.2 1967.2,364.4 1969.7,364.6 1972.2,365.6 1974.8,366.5 1977.3,364.6 1979.4,363.0 1981.5,363.9 1983.6,365.9 1986.1,369.8 1988.6,371.0" fill="none" stroke="#006400" stroke-width="1.9" stroke-linejoin="round"/>
<polyline points="1190.0,96.7 1192.7,85.9 1194.6,118.5 1197.6,87.2 1200.8,114.4 1202.2,132.0 1203.6,136.6 1204.9,147.0 1206.2,146.9 1207.6,140.2 1208.6,146.6 1209.7,163.7 1210.7,166.5 1211.7,179.6 1212.9,167.1 1214.0,145.7 1215.2,130.7 1217.1,170.1 1218.4,161.8 1219.8,148.4 1221.2,157.5 1222.6,174.2 1223.9,171.1 1225.3,162.0 1226.3,164.0 1227.3,175.0 1228.4,176.7 1229.4,185.0 1230.8,172.0 1232.1,155.2 1233.2,158.6 1234.3,167.4 1235.2,156.6 1236.2,140.2 1237.6,153.3 1238.9,168.8 1240.0,169.2 1241.1,164.1 1242.1,168.5 1243.2,160.0 1244.3,162.0 1245.3,158.2 1246.3,147.7 1247.4,147.2 1248.4,140.2 1249.8,148.2 1251.1,162.0 1252.4,156.8 1253.8,148.4 1255.2,155.3 1256.5,164.7 1257.6,170.5 1258.7,167.3 1259.8,173.0 1260.9,169.5 1262.0,175.6 1263.1,173.8 1264.2,162.7 1265.2,163.2 1266.3,151.1 1267.4,148.4 1268.4,152.8 1269.5,149.3 1270.5,156.3 1271.5,153.8 1272.8,145.9 1274.2,144.3 1275.2,158.4 1276.2,160.9 1277.3,176.9 1278.3,185.0 1279.7,163.1 1281.0,145.7 1282.0,146.0 1283.0,141.3 1284.1,143.0 1285.1,140.2 1286.4,142.3 1287.8,148.4 1289.0,145.0 1290.1,134.5 1291.3,129.4 1292.4,136.1 1293.5,134.5 1294.6,140.2 1295.6,138.5 1296.7,129.3 1297.7,131.6 1298.7,125.3 1300.6,110.3 1301.7,125.9 1302.7,145.7 1304.1,155.0 1305.5,159.3 1306.8,143.2 1308.2,133.4 1309.2,138.5 1310.2,137.0 1311.3,145.9 1312.3,148.4 1313.7,137.6 1315.0,133.4 1316.0,140.7 1317.0,139.6 1318.1,148.1 1319.1,148.4 1320.1,152.4 1321.0,163.7 1322.0,165.9 1322.9,174.7 1323.9,179.6 1325.0,166.6 1326.1,160.9 1327.2,145.7 1328.2,140.9 1329.2,142.9 1330.3,132.7 1331.3,133.4 1332.2,154.9 1333.2,168.8 1334.4,161.6 1335.5,161.0 1336.7,153.8 1338.1,178.3 1339.2,155.9 1340.3,138.9 1341.2,156.5 1342.2,167.4 1343.6,153.7 1344.9,143.0 1346.8,178.3 1347.9,165.3 1349.0,145.7 1350.0,155.5 1351.0,175.8 1352.0,184.1 1353.0,198.7 1354.1,192.7 1355.1,177.6 1356.2,171.5 1357.2,156.6 1358.3,149.7 1359.3,157.8 1360.3,156.3 1361.2,166.6 1362.2,164.4 1363.2,171.5 1364.2,171.5 1365.2,165.3 1366.2,167.0 1367.2,163.3 1368.6,168.0 1370.0,175.6 1371.0,167.0 1371.9,155.2 1373.0,160.2 1374.0,171.5 1375.0,173.1 1376.0,165.1 1377.1,165.7 1378.1,162.0 1379.5,178.3 1380.5,160.7 1381.6,151.1 1383.0,149.0 1384.4,141.6 1386.3,156.5 1387.2,152.2 1388.2,152.5 1389.2,169.3 1390.3,182.4 1391.4,170.0 1392.5,163.3 1393.6,174.1 1394.7,175.4 1395.8,185.1 1397.2,174.6 1398.5,159.3 1399.8,168.1 1401.2,179.6 1402.4,175.5 1403.5,162.6 1404.7,156.0 1405.7,165.9 1406.8,167.0 1407.8,179.4 1408.8,185.1 1409.9,176.0 1411.0,177.2 1412.1,167.4 1413.2,161.3 1414.2,164.5 1415.3,157.9 1416.7,166.6 1418.1,178.3 1419.2,166.4 1420.2,149.7 1421.6,163.0 1423.0,179.6 1424.3,175.0 1425.7,163.3 1426.7,167.7 1427.7,178.7 1428.7,178.7 1429.7,189.2 1430.7,190.7 1431.8,181.2 1432.8,185.5 1433.8,181.0 1434.8,173.3 1435.8,174.0 1436.9,163.2 1437.9,160.6 1439.2,175.5 1440.6,186.4 1441.9,168.5 1443.3,155.2 1444.7,176.5 1446.1,194.6 1447.4,184.8 1448.8,179.6 1449.8,188.4 1450.7,189.2 1451.8,176.5 1452.9,171.5 1454.0,170.4 1455.0,160.8 1456.1,159.3 1457.2,166.2 1458.3,168.8 1459.3,170.8 1460.3,177.6 1461.4,175.6 1462.4,182.4 1463.6,190.1 1464.7,188.3 1465.9,194.6 1467.0,183.5 1468.1,162.2 1469.2,151.1 1470.3,157.9 1471.3,155.3 1472.4,162.0 1473.6,162.2 1474.8,153.4 1476.0,152.5 1477.2,161.1 1478.3,161.4 1479.5,168.8 1480.6,165.0 1481.7,152.7 1482.8,149.7 1483.8,157.3 1484.8,156.5 1485.8,166.8 1486.8,167.4 1487.8,165.8 1488.8,173.0 1489.9,170.3 1490.9,172.9 1492.0,172.0 1493.1,163.7 1494.2,162.0 1495.2,171.9 1496.3,175.6 1497.7,176.5 1499.1,182.4 1500.1,180.4 1501.1,168.5 1502.0,169.5 1503.0,158.5 1504.0,155.2 1505.2,158.5 1506.3,152.6 1507.4,159.7 1508.6,156.5 1509.9,165.9 1511.3,179.6 1512.3,183.5 1513.3,176.7 1514.4,183.8 1515.4,181.0 1517.3,190.5 1518.9,144.3 1520.2,157.4 1521.4,178.3 1522.6,177.6 1523.7,166.6 1524.9,164.7 1526.2,171.5 1527.6,172.9 1528.9,154.2 1530.3,138.9 1531.7,162.8 1533.0,179.6 1534.0,167.0 1534.9,162.0 1536.3,175.4 1537.7,183.7 1539.3,230.0 1540.0,382.7" fill="none" stroke="#b22222" stroke-width="1.8" stroke-linejoin="round"/>
</g>
<line x1="1576.2" y1="190" x2="1576.2" y2="435" stroke="#000" stroke-width="2" stroke-dasharray="2.4,1.7"/>
<line x1="1577" y1="119" x2="1576.3" y2="157" stroke="#000" stroke-width="2"/>
<polygon points="1564.9,155.1 1588.1,155.1 1576.2,179.3" fill="#000"/>
<line x1="1194" y1="251.9" x2="1193.2" y2="289" stroke="#888" stroke-width="2"/>
<polygon points="1181.9,287.6 1204.5,287.6 1193.1,311.8" fill="#888"/>
<line x1="1179.9" y1="363" x2="1226.8" y2="363" stroke="#000" stroke-width="2.2"/>
<text x="1193.5" y="345.5" style="font-family:'Liberation Serif',serif;font-size:32px">τ</text>
<text x="1206.5" y="353.5" style="font-family:'Liberation Sans',Arial,Helvetica,sans-serif;font-size:16.5px">1</text>
<line x1="1687" y1="91.7" x2="1720.6" y2="91.7" stroke="#006400" stroke-width="1.9"/>
<text x="1731.7" y="98.8" style="font-family:'Liberation Sans',Arial,Helvetica,sans-serif;font-size:20.9px">532 signal-Dextran dTMR-40</text>
<line x1="1687" y1="122.7" x2="1720.6" y2="122.7" stroke="#b22222" stroke-width="1.9"/>
<text x="1731.7" y="129.8" style="font-family:'Liberation Sans',Arial,Helvetica,sans-serif;font-size:20.9px">640 signal-ATTO655</text>
<line x1="1687" y1="152.7" x2="1720.6" y2="152.7" stroke="#0000ff" stroke-width="1.9"/>
<text x="1731.7" y="160.0" style="font-family:'Liberation Sans',Arial,Helvetica,sans-serif;font-size:20.9px">488 signal-DNA nanopore</text>
<line x1="1687" y1="184.5" x2="1720.6" y2="184.5" stroke="#000" stroke-width="2.0"/>
<line x1="1687" y1="211.6" x2="1720.6" y2="211.6" stroke="#000" stroke-width="2.0" stroke-dasharray="2,1.6"/>
<text x="1731.7" y="218.2" style="font-family:'Liberation Sans',Arial,Helvetica,sans-serif;font-size:20.9px">Addition of unplugging strand</text>
<text x="1731.5" y="187.7" style="font-family:'Liberation Serif',serif;font-size:28px">τ</text>
<text x="1742.8" y="195.6" style="font-family:'Liberation Sans',Arial,Helvetica,sans-serif;font-size:16.8px">1</text>
<text x="1756.7" y="187.6" style="font-family:'Liberation Sans',Arial,Helvetica,sans-serif;font-size:20.9px">NP docking lag</text>
</svg>
</body></html>
